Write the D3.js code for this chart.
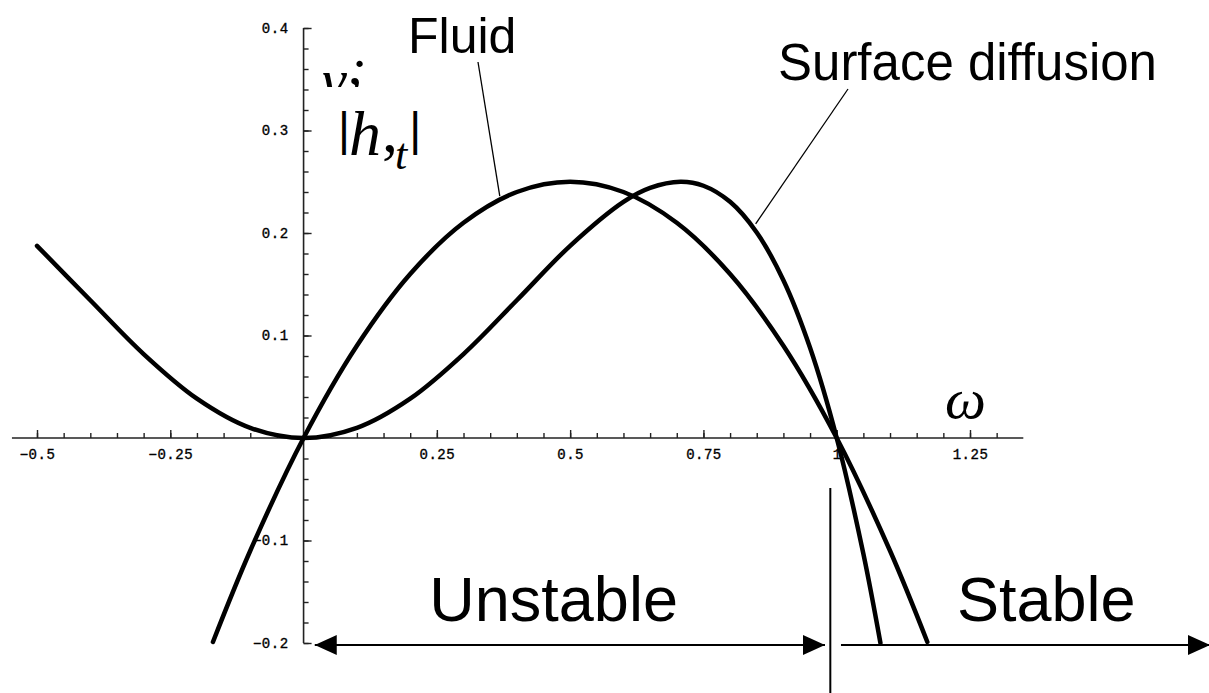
<!DOCTYPE html>
<html>
<head>
<meta charset="utf-8">
<script src="https://cdn.jsdelivr.net/npm/d3@7"></script>
<style>
  html, body { margin: 0; padding: 0; background: #fff; }
  svg { display: block; }
  .tick text { font-family: "Liberation Mono", "DejaVu Sans Mono", monospace; font-size: 14px; fill: #000; stroke: #000; stroke-width: 0.35px; letter-spacing: 0.5px; }
  .tick line { stroke: #222; stroke-width: 1.4; }
  .curve { fill: none; stroke: #000; stroke-width: 4.5; stroke-linejoin: round; stroke-linecap: round; }
  .sans { font-family: "Liberation Sans", Arial, sans-serif; fill: #000; }
  .serif { font-family: "Liberation Serif", "Times New Roman", serif; fill: #000; }
</style>
</head>
<body>
<svg id="chart" width="1209" height="693"></svg>
<script>
// growth rate vs wavenumber
const fluidW    = [-0.17, -0.1, 0, 0.1, 0.2, 0.3, 0.4, 0.5, 0.6, 0.7, 0.8, 0.9, 1.0, 1.1, 1.17];
const fluidRate = [-0.199, -0.11, 0, 0.09, 0.16, 0.21, 0.24, 0.25, 0.24, 0.21, 0.16, 0.09, 0, -0.11, -0.199];

const surfW    = [-0.5, -0.4, -0.3, -0.2, -0.1, 0, 0.1, 0.2, 0.3, 0.4, 0.5, 0.6, 0.65, 0.707, 0.75, 0.8, 0.85, 0.9, 0.95, 1.0, 1.05, 1.082];
const surfRate = [0.1875, 0.1344, 0.0819, 0.0384, 0.0099, 0, 0.0099, 0.0384, 0.0819, 0.1344, 0.1875, 0.2304, 0.244, 0.25, 0.2461, 0.2304, 0.2005, 0.1539, 0.088, 0, -0.113, -0.2];

const xTicks      = [-0.5, -0.25, 0.25, 0.5, 0.75, 1, 1.25];
const xTickLabels = ["\u22120.5", "\u22120.25", "0.25", "0.5", "0.75", "1", "1.25"];
const yTicks      = [-0.2, -0.1, 0.1, 0.2, 0.3, 0.4];
const yTickLabels = ["\u22120.2", "\u22120.1", "0.1", "0.2", "0.3", "0.4"];

// stability regions along omega
const regionNames = ["Unstable", "Stable"];
const regionFrom  = [0.021, 1.008];
const regionTo    = [0.978, 1.70];
const regionMid   = [0.469, 1.393];
const regionSplit = 0.988;

const svg = d3.select("#chart");

const x = d3.scaleLinear().domain([-0.5, 1.25]).range([37, 970]);
const y = d3.scaleLinear().domain([-0.2, 0.4]).range([643, 28]);

// ---- axes ----
const xg = svg.append("g").attr("transform", "translate(0," + y(0) + ")");
xg.append("line")
    .attr("x1", x(-0.547)).attr("x2", x(1.35))
    .attr("stroke", "#222").attr("stroke-width", 1.6);
xg.append("g")
    .call(d3.axisBottom(x).tickValues(d3.range(-0.5, 1.31, 0.05)).tickSize(-5).tickFormat(""))
    .call(g => g.select(".domain").remove());
xg.append("g")
    .call(d3.axisBottom(x).tickValues(xTicks).tickSizeInner(-8).tickSizeOuter(0).tickPadding(11)
        .tickFormat((d, i) => xTickLabels[i]))
    .call(g => g.select(".domain").remove());

const yg = svg.append("g").attr("transform", "translate(" + x(0) + ",0)");
yg.append("line")
    .attr("y1", y(-0.2)).attr("y2", y(0.4))
    .attr("stroke", "#222").attr("stroke-width", 1.6);
yg.append("g")
    .call(d3.axisLeft(y).tickValues(d3.range(-0.2, 0.401, 0.02)).tickSize(-5).tickFormat(""))
    .call(g => g.select(".domain").remove());
yg.append("g")
    .call(d3.axisLeft(y).tickValues(yTicks).tickSizeInner(-8).tickSizeOuter(0).tickPadding(15)
        .tickFormat((d, i) => yTickLabels[i]))
    .call(g => g.select(".domain").remove());

// ---- curves ----
const line = d3.line()
    .x(d => x(d[0]))
    .y(d => y(d[1]))
    .curve(d3.curveCatmullRom.alpha(0.5));

svg.append("path").attr("class", "curve")
    .attr("d", line(d3.zip(surfW, surfRate)));
svg.append("path").attr("class", "curve")
    .attr("d", line(d3.zip(fluidW, fluidRate)));

// ---- curve labels with leaders ----
svg.append("text").attr("class", "sans")
    .attr("x", 408).attr("y", 53).attr("font-size", 50).text("Fluid");
svg.append("line")
    .attr("x1", 478).attr("y1", 62).attr("x2", x(0.368)).attr("y2", y(0.236))
    .attr("stroke", "#000").attr("stroke-width", 1.3);

svg.append("text").attr("class", "sans")
    .attr("x", 778).attr("y", 80).attr("font-size", 51).text("Surface diffusion");
svg.append("line")
    .attr("x1", 848).attr("y1", 89).attr("x2", x(0.848)).attr("y2", y(0.209))
    .attr("stroke", "#000").attr("stroke-width", 1.3);

// ---- axis titles ----
// upper line is half hidden behind the |h,t| box in the original
svg.append("clipPath").attr("id", "topcut")
  .append("rect").attr("x", 310).attr("y", 0).attr("width", 120).attr("height", 87);
const gam = svg.append("text").attr("class", "serif")
    .attr("clip-path", "url(#topcut)")
    .attr("x", 322).attr("y", 100).attr("font-size", 60);
gam.append("tspan").attr("font-style", "italic").text("\u03b3\u0307");
gam.append("tspan").attr("dx", 2).attr("dy", -16).text(",");

const ht = svg.append("text").attr("x", 338).attr("y", 145);
ht.append("tspan").attr("class", "sans").attr("font-size", 46).text("|");
ht.append("tspan").attr("class", "serif").attr("font-size", 64).attr("font-style", "italic")
    .attr("dx", -1).attr("dy", 10).text("h");
ht.append("tspan").attr("class", "serif").attr("font-size", 64).attr("dx", 1).attr("dy", -3).text(",");
ht.append("tspan").attr("class", "serif").attr("font-size", 44).attr("font-style", "italic")
    .attr("dx", -3).attr("dy", 17).text("t");
ht.append("tspan").attr("class", "sans").attr("font-size", 46).attr("dx", 2).attr("dy", -24).text("|");

svg.append("text").attr("class", "serif")
    .attr("x", 945).attr("y", 418).attr("font-size", 58).attr("font-style", "italic")
    .text("\u03c9");

// ---- stability arrows ----
const defs = svg.append("defs");
defs.append("marker").attr("id", "head").attr("markerUnits", "userSpaceOnUse")
    .attr("markerWidth", 24).attr("markerHeight", 22)
    .attr("refX", 22).attr("refY", 11).attr("orient", "auto-start-reverse")
  .append("path").attr("d", "M0,1 L22,11 L0,21 Z").attr("fill", "#000");

const ay = y(-0.2) + 2;
regionNames.forEach((name, i) => {
  svg.append("line")
      .attr("x1", x(regionFrom[i])).attr("x2", x(regionTo[i]))
      .attr("y1", ay).attr("y2", ay)
      .attr("stroke", "#000").attr("stroke-width", 2)
      .attr("marker-start", i === 0 ? "url(#head)" : null)
      .attr("marker-end", "url(#head)");
  svg.append("text").attr("class", "sans")
      .attr("x", x(regionMid[i])).attr("y", 621)
      .attr("text-anchor", "middle").attr("font-size", 63)
      .text(name);
});

svg.append("line")
    .attr("x1", x(regionSplit)).attr("x2", x(regionSplit))
    .attr("y1", 488).attr("y2", 693)
    .attr("stroke", "#000").attr("stroke-width", 2);
</script>
</body>
</html>
